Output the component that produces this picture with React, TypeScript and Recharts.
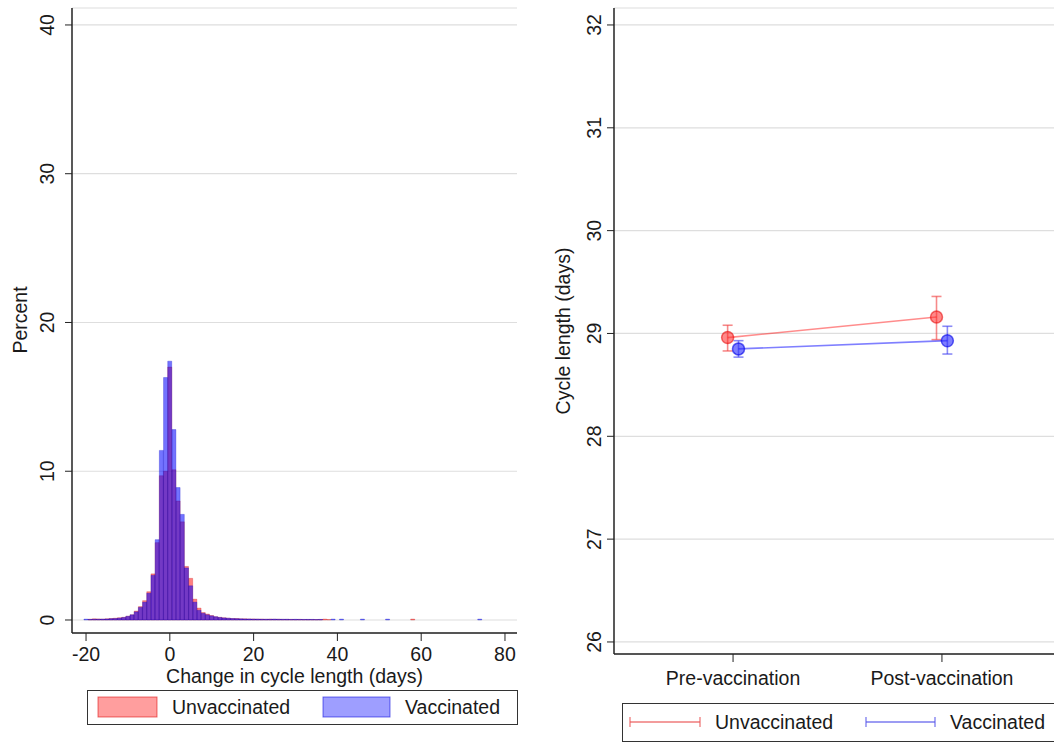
import React from 'react';
import { ComposedChart, Bar, XAxis, YAxis, CartesianGrid, Scatter, ErrorBar } from 'recharts';

const FONT = '"Liberation Sans", Arial, Helvetica, sans-serif';
const INK = '#1a1a1a';
const FS = 19.5;

// ---------- Histogram data (percent per 1-day bin) ----------
const binCenters = [
  -20, -19, -18, -17, -16, -15, -14, -13, -12, -11, -10, -9, -8, -7, -6, -5, -4, -3, -2, -1,
  0, 1, 2, 3, 4, 5, 6, 7, 8, 9, 10, 11, 12, 13, 14, 15, 16, 17, 18, 19,
  20, 21, 22, 23, 24, 25, 26, 27, 28, 29, 30, 31, 32, 33, 34, 35, 36, 37, 38, 39,
  40, 41, 42, 43, 44, 45, 46, 47, 48, 49, 50, 51, 52, 53, 54, 55, 56, 57, 58, 59,
  60, 61, 62, 63, 64, 65, 66, 67, 68, 69, 70, 71, 72, 73, 74,
];
const unvaccinatedPct = [
  0, 0.05, 0.08, 0.07, 0.06, 0.08, 0.1, 0.12, 0.15, 0.18, 0.25, 0.35, 0.6, 0.9, 1.3, 1.9, 3.1, 5.2, 9.7, 10.0,
  17.0, 10.1, 8.0, 6.6, 3.6, 2.8, 1.4, 0.8, 0.5, 0.4, 0.3, 0.22, 0.18, 0.15, 0.12, 0.1, 0.1, 0.08, 0.08, 0.07,
  0.07, 0.06, 0.06, 0.05, 0.06, 0.05, 0.05, 0.04, 0.04, 0.04, 0.03, 0.04, 0.03, 0.03, 0.03, 0.03, 0.03, 0.06, 0.03, 0,
  0, 0, 0, 0, 0, 0, 0, 0, 0, 0, 0, 0, 0, 0, 0, 0, 0, 0, 0.06, 0,
  0, 0, 0, 0, 0, 0, 0, 0, 0, 0, 0, 0, 0, 0, 0,
];
const vaccinatedPct = [
  0.06, 0.04, 0.05, 0.05, 0.06, 0.07, 0.09, 0.1, 0.13, 0.17, 0.25, 0.35, 0.55, 0.85, 1.2, 1.8, 3.0, 5.4, 11.4, 16.3,
  17.4, 12.8, 8.9, 7.1, 3.5, 2.3, 1.2, 0.65, 0.45, 0.35, 0.28, 0.22, 0.17, 0.14, 0.12, 0.1, 0.09, 0.08, 0.07, 0.07,
  0.06, 0.06, 0.05, 0.05, 0.05, 0.06, 0.05, 0.05, 0.05, 0.04, 0.05, 0.04, 0.04, 0.04, 0.04, 0.03, 0.04, 0, 0, 0.06,
  0, 0.06, 0, 0, 0, 0, 0.06, 0, 0, 0, 0, 0, 0.06, 0, 0, 0, 0, 0, 0, 0,
  0, 0, 0, 0, 0, 0, 0, 0, 0, 0, 0, 0, 0, 0, 0.06,
];
const histXTicks = [-20, 0, 20, 40, 60, 80];
const histYTicks = [0, 10, 20, 30, 40];
const histXDomain = [-23.35, 82.87];
const histYDomain = [-0.874, 41.14];

// ---------- Cycle length means with 95% CI ----------
const periods = ['Pre-vaccination', 'Post-vaccination'];
const unvacMean = [28.96, 29.16];
const unvacLow = [28.83, 28.94];
const unvacHigh = [29.08, 29.36];
const vacMean = [28.85, 28.93];
const vacLow = [28.77, 28.8];
const vacHigh = [28.93, 29.07];
const cycleYTicks = [26, 27, 28, 29, 30, 31, 32];
const cycleYDomain = [25.883, 32.165];
const periodXDomain = [0.43, 2.57];
const DODGE = 0.026;

const histData = binCenters.map((x, i) => ({ x, unvac: unvaccinatedPct[i], vac: vaccinatedPct[i] }));

const makePoints = (mean: number[], low: number[], high: number[], sign: number) =>
  periods.map((_, i) => ({
    x: i + 1 + sign * DODGE,
    y: mean[i],
    err: [mean[i] - low[i], high[i] - mean[i]],
  }));
const unvacPoints = makePoints(unvacMean, unvacLow, unvacHigh, -1);
const vacPoints = makePoints(vacMean, vacLow, vacHigh, 1);

const RotTick = (props: any) => {
  const { y, payload, cxPos } = props;
  return (
    <text
      x={cxPos}
      y={y}
      transform={`rotate(-90 ${cxPos} ${y})`}
      textAnchor="middle"
      dominantBaseline="central"
      fontSize={FS}
      fill={INK}
      fontFamily={FONT}
    >
      {payload.value}
    </text>
  );
};

const frame = { stroke: '#222', strokeWidth: 1.5 };
const tickStyle = { fontSize: FS, fill: INK, fontFamily: FONT };

const RED_FILL = 'rgba(255,0,0,0.5)';
const RED_STROKE = 'rgba(200,0,0,0.45)';
const BLUE_FILL = 'rgba(0,0,255,0.55)';
const BLUE_STROKE = 'rgba(0,0,200,0.45)';

const Dot = (fill: string, stroke: string) => (p: any) => (
  <circle cx={p.cx} cy={p.cy} r={6} fill={fill} stroke={stroke} strokeWidth={1.5} />
);

export default function App() {
  return (
    <div
      style={{
        position: 'absolute',
        left: 0,
        top: 0,
        width: 1054,
        height: 745,
        overflow: 'hidden',
        background: '#fff',
        fontFamily: FONT,
      }}
    >
      <div style={{ position: 'absolute', left: 0, top: 0 }}>
        <ComposedChart
          width={530}
          height={700}
          data={histData}
          margin={{ top: 8, right: 13, bottom: 0, left: 0 }}
          barCategoryGap={0}
          barGap={0}
        >
          <CartesianGrid xAxisId="b" vertical={false} stroke="#dedede" strokeWidth={1.2} />
          <XAxis
            xAxisId="b"
            dataKey="x"
            type="number"
            domain={histXDomain}
            ticks={histXTicks}
            allowDataOverflow
            interval={0}
            height={67}
            tickSize={8}
            tickMargin={6}
            tick={tickStyle}
            axisLine={frame}
            tickLine={{ stroke: '#222' }}
          />
          <XAxis
            xAxisId="t"
            orientation="top"
            dataKey="x"
            type="number"
            domain={histXDomain}
            allowDataOverflow
            height={0}
            tick={false}
            tickLine={false}
            axisLine={frame}
          />
          <YAxis
            type="number"
            domain={histYDomain}
            ticks={histYTicks}
            allowDataOverflow
            interval={0}
            width={72}
            tickSize={7}
            axisLine={frame}
            tickLine={{ stroke: '#222' }}
            tick={(p: any) => <RotTick {...p} cxPos={47} />}
          />
          <YAxis
            yAxisId="r"
            orientation="right"
            domain={[0, 1]}
            width={0}
            tick={false}
            tickLine={false}
            axisLine={frame}
          />
          <Bar xAxisId="b" dataKey="unvac" fill={RED_FILL} stroke={RED_STROKE} strokeWidth={0.6} isAnimationActive={false} />
          <Bar xAxisId="t" dataKey="vac" fill={BLUE_FILL} stroke={BLUE_STROKE} strokeWidth={0.6} isAnimationActive={false} />
        </ComposedChart>
      </div>

      <div style={{ position: 'absolute', left: 520, top: 0 }}>
        <ComposedChart width={560} height={700} margin={{ top: 8, right: 19, bottom: 0, left: 0 }}>
          <CartesianGrid xAxisId="b" vertical={false} stroke="#dedede" strokeWidth={1.2} />
          <XAxis
            xAxisId="b"
            dataKey="x"
            type="number"
            domain={periodXDomain}
            ticks={[1, 2]}
            tickFormatter={(v: number) => periods[v - 1]}
            allowDataOverflow
            interval={0}
            height={46}
            tickSize={8}
            tickMargin={9}
            tick={tickStyle}
            axisLine={frame}
            tickLine={{ stroke: '#222' }}
          />
          <XAxis
            xAxisId="t"
            orientation="top"
            type="number"
            domain={periodXDomain}
            allowDataOverflow
            height={0}
            tick={false}
            tickLine={false}
            axisLine={frame}
          />
          <YAxis
            dataKey="y"
            type="number"
            domain={cycleYDomain}
            ticks={cycleYTicks}
            allowDataOverflow
            interval={0}
            width={94}
            tickSize={7}
            axisLine={frame}
            tickLine={{ stroke: '#222' }}
            tick={(p: any) => <RotTick {...p} cxPos={74} />}
          />
          <Scatter
            xAxisId="b"
            data={unvacPoints}
            line={{ stroke: 'rgba(255,0,0,0.45)', strokeWidth: 1.6 }}
            shape={Dot('rgba(255,40,40,0.55)', 'rgba(230,0,0,0.55)')}
            isAnimationActive={false}
          >
            <ErrorBar dataKey="err" direction="y" width={5} stroke="rgba(240,60,60,0.6)" strokeWidth={1.6} />
          </Scatter>
          <Scatter
            xAxisId="b"
            data={vacPoints}
            line={{ stroke: 'rgba(0,0,255,0.5)', strokeWidth: 1.6 }}
            shape={Dot('rgba(40,40,255,0.6)', 'rgba(0,0,230,0.6)')}
            isAnimationActive={false}
          >
            <ErrorBar dataKey="err" direction="y" width={5} stroke="rgba(60,60,240,0.6)" strokeWidth={1.6} />
          </Scatter>
        </ComposedChart>
      </div>

      <svg
        width={1054}
        height={745}
        style={{ position: 'absolute', left: 0, top: 0, pointerEvents: 'none' }}
        fontFamily={FONT}
      >
        {/* axis titles */}
        <text x={294.5} y={676} textAnchor="middle" dominantBaseline="central" fontSize={FS} fill={INK}>
          Change in cycle length (days)
        </text>
        <text x={20} y={320} transform="rotate(-90 20 320)" textAnchor="middle" dominantBaseline="central" fontSize={FS} fill={INK}>
          Percent
        </text>
        <text x={563} y={331} transform="rotate(-90 563 331)" textAnchor="middle" dominantBaseline="central" fontSize={FS} fill={INK}>
          Cycle length (days)
        </text>

        {/* left legend */}
        <rect x={87.5} y={690.5} width={430} height={34} fill="#fff" stroke="#333" strokeWidth={1} />
        <rect x={98} y={697} width={59} height={20} fill="rgba(255,0,0,0.38)" stroke="rgba(220,0,0,0.55)" strokeWidth={1} />
        <text x={172} y={707} dominantBaseline="central" fontSize={FS} fill={INK}>Unvaccinated</text>
        <rect x={323} y={697} width={67} height={20} fill="rgba(0,0,255,0.38)" stroke="rgba(0,0,220,0.55)" strokeWidth={1} />
        <text x={405} y={707} dominantBaseline="central" fontSize={FS} fill={INK}>Vaccinated</text>

        {/* right legend */}
        <rect x={622.5} y={703.5} width={450} height={38} fill="#fff" stroke="#333" strokeWidth={1} />
        <g stroke="rgba(235,90,90,0.8)" strokeWidth={1.3}>
          <line x1={630} y1={722} x2={700} y2={722} />
          <line x1={630} y1={717} x2={630} y2={727} />
          <line x1={700} y1={717} x2={700} y2={727} />
        </g>
        <text x={715} y={722} dominantBaseline="central" fontSize={FS} fill={INK}>Unvaccinated</text>
        <g stroke="rgba(90,90,235,0.8)" strokeWidth={1.3}>
          <line x1={866} y1={722} x2={935} y2={722} />
          <line x1={866} y1={717} x2={866} y2={727} />
          <line x1={935} y1={717} x2={935} y2={727} />
        </g>
        <text x={950} y={722} dominantBaseline="central" fontSize={FS} fill={INK}>Vaccinated</text>
      </svg>
    </div>
  );
}
